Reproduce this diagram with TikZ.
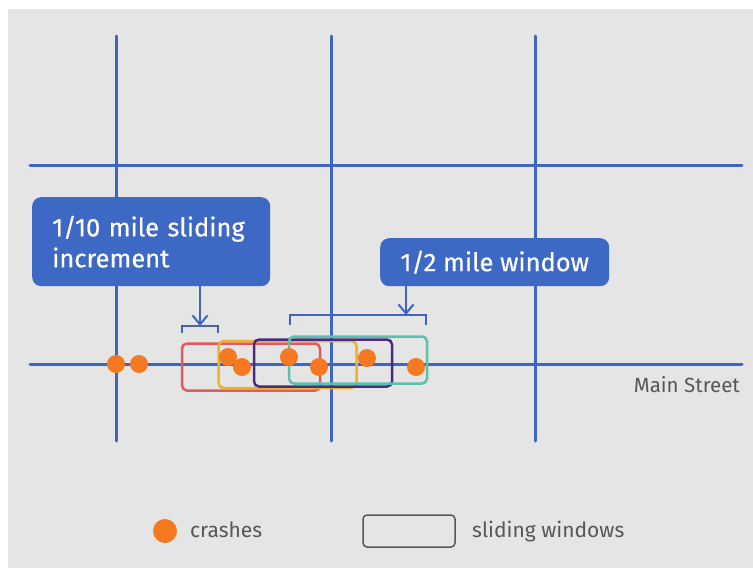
\documentclass[tikz,border=0pt]{standalone}
\usepackage{fontspec}
\setmainfont{Fira Sans}
\newfontfamily\calloutfont[FakeBold=0.5]{Fira Sans}
\usetikzlibrary{positioning, arrows.meta}
\definecolor{road}{HTML}{3F66BF}
\definecolor{callout}{HTML}{3D69C4}
\definecolor{paper}{HTML}{E4E5E4}
\definecolor{crash}{HTML}{F47920}
\definecolor{caption}{HTML}{555759}
\definecolor{winred}{HTML}{E5585F}
\definecolor{winyellow}{HTML}{E8B52A}
\definecolor{winpurple}{HTML}{4A2C7E}
\definecolor{winteal}{HTML}{5DBFAE}

\tikzset{
  street/.style={road, line width=3pt, line cap=round},
  crashdot/.style={circle, fill=crash, inner sep=0pt, minimum size=18pt},
  window/.style={rectangle, rounded corners=5pt, line width=2.5pt,
                 minimum width=138pt, minimum height=47pt, inner sep=0pt},
  callbox/.style={rectangle, fill=callout, rounded corners=9pt, text=white,
                  font=\calloutfont\fontsize{25.5}{31}\selectfont},
  pointer/.style={road, line width=2pt, -{Straight Barb[length=9pt, width=15pt]}},
  bracket/.style={road, line width=2pt},
  legendtext/.style={caption, inner sep=0pt, font=\fontsize{21}{24}\selectfont}
}

\begin{document}
\begin{tikzpicture}[x=1pt, y=-1pt]
  \useasboundingbox (0,0) rectangle (753,568);
  \fill[paper] (8,9) rectangle (753,568);

  % Streets
  \foreach \x in {116, 331, 535} {
    \draw[street] (\x,36) -- (\x,441);
  }
  \foreach \y in {165, 364} {
    \draw[street] (30,\y) -- (742,\y);
  }
  \node[caption, inner sep=0pt, anchor=base east, font=\fontsize{20.5}{22}\selectfont] (main) at (740,392) {Main Street};

  % Sliding windows
  \foreach \x/\y/\c/\n in {251/367/winred/wa, 287.5/364.5/winyellow/wb,
                           323/363/winpurple/wc, 358/360/winteal/wd} {
    \node[window, draw=\c] (\n) at (\x,\y) {};
  }

  % Crashes
  \foreach \x/\y/\n in {116/364/c1, 139/364/c2, 228/357/c3, 242/367/c4,
                        289/357/c5, 319/367/c6, 367/358/c7, 416/367/c8} {
    \node[crashdot] (\n) at (\x,\y) {};
  }

  % Callouts
  \node[callbox, anchor=north west, text width=198pt, inner xsep=20pt,
        minimum height=89pt, align=left] (inc) at (32,197)
        {1/10 mile sliding\\increment};
  \node[callbox, anchor=north west, minimum width=229pt, minimum height=48pt] (win) at (380,238)
        {1/2 mile window};

  % Brackets
  \coordinate (tipA) at (200,326);
  \coordinate (tipB) at (406,315);
  \draw[bracket] (182,333) -- (182,326) -- (218,326) -- (218,333);
  \draw[bracket] (290,325) -- (290,315) -- (426,315) -- (426,325);
  \draw[pointer] (inc.south -| tipA) -- (tipA);
  \draw[pointer] (win.south -| tipB) -- (tipB);

  % Legend
  \node[crashdot, minimum size=24pt] (keydot) at (165,531) {};
  \node[legendtext, anchor=base west] (keycrash) at (190,537) {crashes};
  \node[draw=caption, line width=1.5pt, rounded corners=4pt, minimum width=92pt,
        minimum height=32pt] (keybox) at (409,531) {};
  \node[legendtext, anchor=base west] (keywin) at (472,537) {sliding windows};
\end{tikzpicture}
\end{document}
